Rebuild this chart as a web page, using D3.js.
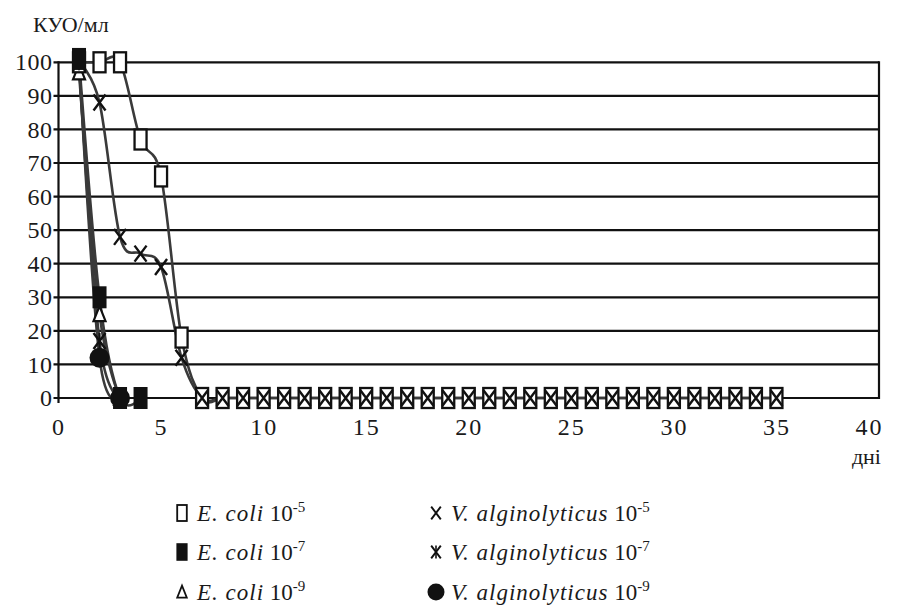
<!DOCTYPE html>
<html>
<head>
<meta charset="utf-8">
<script src="https://cdn.jsdelivr.net/npm/d3@7/dist/d3.min.js"></script>
</head>
<body style="margin:0">
<script>
// days of observation
const days = [1, 2, 3, 4, 5, 6, 7, 8, 9, 10, 11, 12, 13, 14, 15, 16, 17, 18, 19, 20,
  21, 22, 23, 24, 25, 26, 27, 28, 29, 30, 31, 32, 33, 34, 35];

// КУО/мл per series
const ecoli5 = [100, 100, 100, 77, 66, 18, 0, 0, 0, 0, 0, 0, 0, 0, 0, 0, 0, 0, 0, 0,
  0, 0, 0, 0, 0, 0, 0, 0, 0, 0, 0, 0, 0, 0, 0];
const ecoli7 = [101, 30, 0, 0];
const ecoli9 = [97, 25, 0];
const valg5 = [100, 88, 48, 43, 39, 12, 0, 0, 0, 0, 0, 0, 0, 0, 0, 0, 0, 0, 0, 0,
  0, 0, 0, 0, 0, 0, 0, 0, 0, 0, 0, 0, 0, 0, 0];
const valg7 = [100, 17, 0];
const valg9 = [100, 12, 0];

const xTicks = [0, 5, 10, 15, 20, 25, 30, 35, 40];
const yTicks = [0, 10, 20, 30, 40, 50, 60, 70, 80, 90, 100];

const legendNames = ["E. coli", "E. coli", "E. coli", "V. alginolyticus", "V. alginolyticus", "V. alginolyticus"];
const legendExp = ["-5", "-7", "-9", "-5", "-7", "-9"];
const markerTypes = ["rectOpen", "rectFill", "triangle", "cross", "star", "circle"];

const series = [ecoli5, ecoli7, ecoli9, valg5, valg7, valg9];

const FONT = "Liberation Serif";
// text is set at a large size and scaled down, so the serif face gets picked
const BASE = 30;

const svg = d3.select("body").append("svg").attr("width", 898).attr("height", 610);

const x = d3.scaleLinear().domain([0, 40]).range([58.5, 879]);
const y = d3.scaleLinear().domain([0, 100]).range([398, 62.3]);

// grid
svg.append("g")
  .selectAll("line")
  .data(yTicks)
  .enter()
  .append("line")
  .attr("x1", x(0) - 5)
  .attr("x2", x(40))
  .attr("y1", d => y(d))
  .attr("y2", d => y(d))
  .attr("stroke", "#111")
  .attr("stroke-width", 2.2);

svg.append("line")
  .attr("x1", x(0)).attr("x2", x(0))
  .attr("y1", y(100) - 1).attr("y2", y(0) + 5)
  .attr("stroke", "#111").attr("stroke-width", 2.2);
svg.append("line")
  .attr("x1", x(40)).attr("x2", x(40))
  .attr("y1", y(100) - 1).attr("y2", y(0) + 1)
  .attr("stroke", "#111").attr("stroke-width", 2.2);

// axes
const tk = 24 / BASE;
const yAxis = svg.append("g")
  .attr("transform", `translate(${x(0)},0)`)
  .call(d3.axisLeft(y).tickValues(yTicks).tickSize(0).tickPadding(6));
const xAxis = svg.append("g")
  .attr("transform", `translate(0,${y(0)})`)
  .call(d3.axisBottom(x).tickValues(xTicks).tickSize(0).tickPadding(20));
[yAxis, xAxis].forEach(a => {
  a.attr("font-family", FONT).attr("font-size", BASE);
  a.select(".domain").remove();
  a.selectAll("text")
    .attr("font-family", FONT)
    .attr("font-size", BASE)
    .attr("fill", "#1a1a1a")
    .attr("transform", `scale(${tk})`);
});
yAxis.selectAll("text").attr("x", -6 / tk).attr("letter-spacing", 0.5 / tk);
xAxis.selectAll("text")
  .attr("y", 20 / tk)
  .attr("dx", d => (d === 40 ? -10 / tk : 0))
  .attr("letter-spacing", 2 / tk);

function label(px, py, size, str, anchor) {
  const k = size / BASE;
  svg.append("g").attr("transform", `translate(${px},${py}) scale(${k})`)
    .append("text")
    .attr("font-family", FONT).attr("font-size", BASE)
    .attr("text-anchor", anchor).attr("fill", "#1a1a1a")
    .text(str);
}
label(33, 32, 22, "КУО/мл", "start");
label(881, 464, 22, "дні", "end");

// lines
const line = d3.line()
  .x((d, i) => x(days[i]))
  .y(d => y(d))
  .curve(d3.curveCatmullRom.alpha(0));

const lines = svg.append("g").attr("class", "lines");
series.forEach(s => {
  lines.append("path").attr("d", line(s)).attr("fill", "none")
    .attr("stroke", "#3a3a3a").attr("stroke-width", 2.6);
});

function marker(g, type, cx, cy, k) {
  const m = g.append("g").attr("transform", `translate(${cx},${cy}) scale(${k})`);
  if (type === "rectOpen") {
    m.append("rect").attr("x", -6).attr("y", -10).attr("width", 12).attr("height", 20)
      .attr("fill", "#fff").attr("stroke", "#111").attr("stroke-width", 2.3);
  } else if (type === "rectFill") {
    m.append("rect").attr("x", -7).attr("y", -11).attr("width", 14).attr("height", 22)
      .attr("fill", "#111");
  } else if (type === "triangle") {
    m.append("path").attr("d", "M0,-8L6,7L-6,7Z")
      .attr("fill", "#fff").attr("stroke", "#111").attr("stroke-width", 2.2);
  } else if (type === "cross" || type === "star") {
    m.append("path").attr("d", "M-6,-8L6,8M6,-8L-6,8")
      .attr("stroke", "#111").attr("stroke-width", 2.4).attr("fill", "none");
    if (type === "star") {
      m.append("path").attr("d", "M0,-8L0,8")
        .attr("stroke", "#111").attr("stroke-width", 2).attr("fill", "none");
    }
  } else if (type === "circle") {
    m.append("circle").attr("r", 10).attr("fill", "#111");
  }
}

// draw order: circles, triangles, open rects, crosses, stars, filled rects
const order = [5, 2, 0, 3, 4, 1];
const marks = svg.append("g").attr("class", "markers");
order.forEach(si => {
  series[si].forEach((v, i) => marker(marks, markerTypes[si], x(days[i]), y(v), si === 5 && i === 0 ? 0.7 : 1));
});

// legend
const legCols = [182, 436];
const legRows = [513, 552, 592];
const lk = 23 / BASE;
legendNames.forEach((name, i) => {
  const cx = legCols[Math.floor(i / 3)];
  const cy = legRows[i % 3];
  const t = markerTypes[i];
  marker(svg, t, cx, cy, t === "circle" ? 0.85 : 0.8);
  const txt = svg.append("g")
    .attr("transform", `translate(${cx + 15},${cy + 8}) scale(${lk})`)
    .append("text")
    .attr("font-family", FONT).attr("font-size", BASE).attr("fill", "#1a1a1a");
  txt.append("tspan").attr("font-family", FONT).attr("font-style", "italic")
    .attr("letter-spacing", 1 / lk).text(name);
  txt.append("tspan").attr("font-family", FONT).text(" 10");
  txt.append("tspan").attr("font-family", FONT).attr("dy", -9 / lk)
    .attr("font-size", 15 / lk).text(legendExp[i]);
});
</script>
</body>
</html>
